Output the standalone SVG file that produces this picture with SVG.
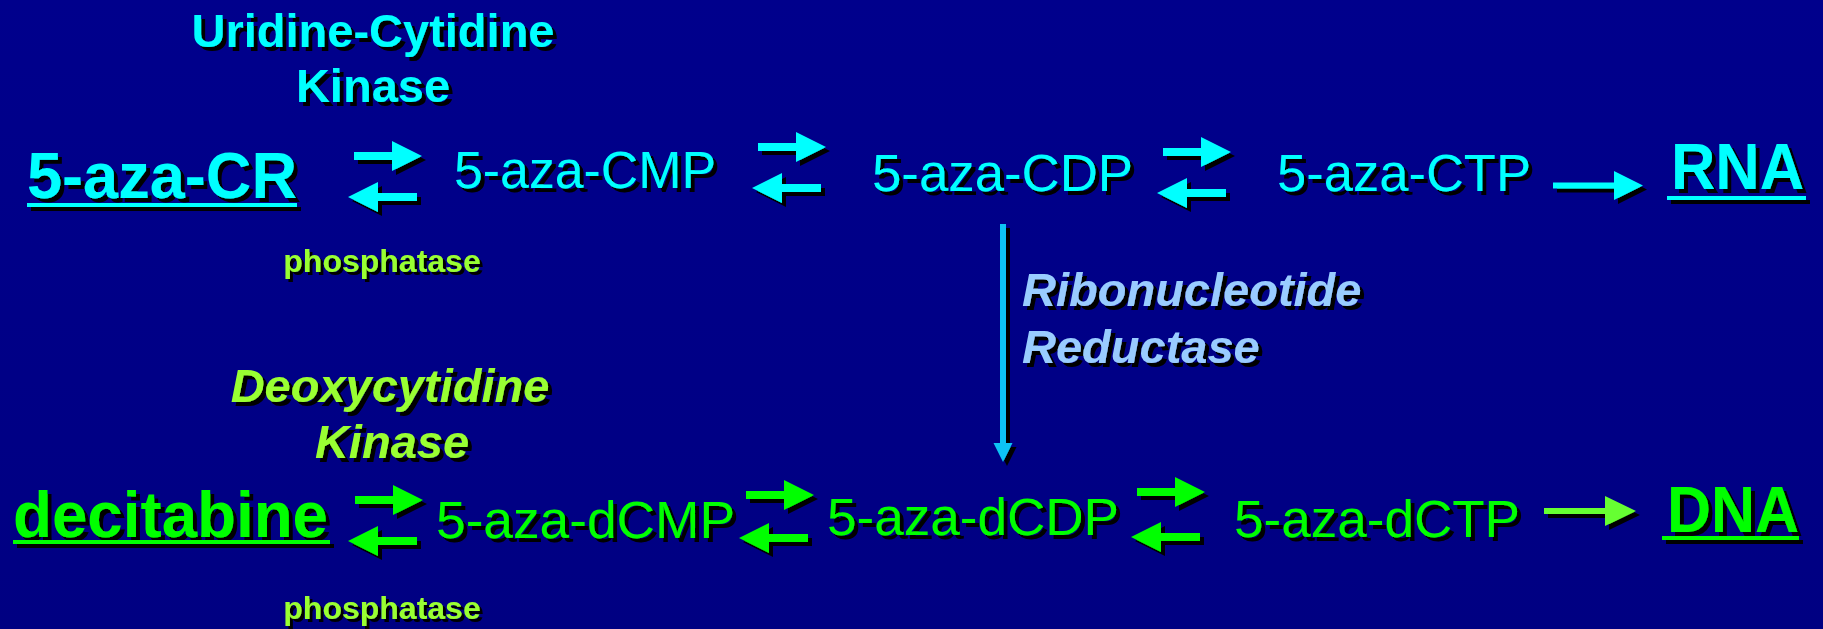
<svg xmlns="http://www.w3.org/2000/svg" xmlns:xlink="http://www.w3.org/1999/xlink" width="1823" height="629" viewBox="0 0 1823 629">
  <defs>
    <linearGradient id="bg" x1="0" y1="0" x2="0" y2="1">
      <stop offset="0" stop-color="#00008c"/>
      <stop offset="1" stop-color="#000082"/>
    </linearGradient>
    <!-- hard black drop shadow used on every label and arrow -->
    <filter id="sh" x="-10%" y="-10%" width="130%" height="140%">
      <feDropShadow dx="4" dy="4" stdDeviation="0" flood-color="#000" flood-opacity="1"/>
    </filter>
    <filter id="shs" x="-10%" y="-10%" width="130%" height="140%">
      <feDropShadow dx="3" dy="3" stdDeviation="0" flood-color="#000" flood-opacity="1"/>
    </filter>
    <!-- block arrows: tail at x=0 (forward) / tip at x=0 (reverse), centred on y=0 -->
    <path id="fwd" d="M0,-4 H38 V-15 L68,0 L38,15 V4 H0 Z"/>
    <path id="rev" d="M0,0 L30,-15 V-4 H69 V4 H30 V15 Z"/>
  </defs>
  <style>
    text { font-family: "Liberation Sans", Arial, sans-serif; }
    .big { font-weight: bold; font-size: 64px; }
    .enz { font-weight: bold; font-size: 47px; }
    .ital { font-style: italic; }
    .mid { font-size: 51px; }
    .pho { font-weight: bold; font-size: 32px; fill: #99ff33; }
    .cy { fill: #00ffff; }
    .gr { fill: #00ff00; }
    .lg { fill: #99ff33; }
    .lb { fill: #99ccff; }
    .ul-cy { fill: #00ffff; }
    .ul-gr { fill: #00ff00; }
  </style>

  <rect width="1823" height="629" fill="url(#bg)"/>

  <!-- ribo pathway -->
  <g id="enzyme-uck" filter="url(#sh)">
    <text class="enz cy" x="373" y="47" text-anchor="middle">Uridine-Cytidine</text>
    <text class="enz cy" x="373" y="102" text-anchor="middle">Kinase</text>
  </g>
  <g id="aza-cr" filter="url(#sh)">
    <text class="big cy" x="27" y="198" textLength="270" lengthAdjust="spacingAndGlyphs">5-aza-CR</text>
    <rect class="ul-cy" x="27" y="203" width="270" height="4"/>
  </g>
  <g id="aza-cmp" filter="url(#sh)">
    <text class="mid cy" x="454" y="188" textLength="262" lengthAdjust="spacingAndGlyphs">5-aza-CMP</text>
  </g>
  <g id="aza-cdp" filter="url(#sh)">
    <text class="mid cy" x="872" y="191" textLength="261" lengthAdjust="spacingAndGlyphs">5-aza-CDP</text>
  </g>
  <g id="aza-ctp" filter="url(#sh)">
    <text class="mid cy" x="1277" y="191" textLength="254" lengthAdjust="spacingAndGlyphs">5-aza-CTP</text>
  </g>
  <g id="rna" filter="url(#sh)">
    <text class="big cy" x="1671" y="189" textLength="133" lengthAdjust="spacingAndGlyphs">RNA</text>
    <rect class="ul-cy" x="1667" y="196" width="139" height="4"/>
  </g>
  <g id="phosphatase-1" filter="url(#shs)">
    <text class="pho" x="382" y="272" text-anchor="middle">phosphatase</text>
  </g>

  <!-- reductase label -->
  <g id="enzyme-rnr" filter="url(#sh)">
    <text class="enz ital lb" x="1022" y="306">Ribonucleotide</text>
    <text class="enz ital lb" x="1022" y="363">Reductase</text>
  </g>

  <!-- deoxy pathway -->
  <g id="enzyme-dck" filter="url(#sh)">
    <text class="enz ital lg" x="390" y="402" text-anchor="middle">Deoxycytidine</text>
    <text class="enz ital lg" x="392" y="458" text-anchor="middle">Kinase</text>
  </g>
  <g id="decitabine" filter="url(#sh)">
    <text class="big gr" x="13" y="537" textLength="315" lengthAdjust="spacingAndGlyphs">decitabine</text>
    <rect class="ul-gr" x="13" y="540" width="317" height="4"/>
  </g>
  <g id="aza-dcmp" filter="url(#sh)">
    <text class="mid gr" x="436" y="538" textLength="299" lengthAdjust="spacingAndGlyphs">5-aza-dCMP</text>
  </g>
  <g id="aza-dcdp" filter="url(#sh)">
    <text class="mid gr" x="827" y="535" textLength="292" lengthAdjust="spacingAndGlyphs">5-aza-dCDP</text>
  </g>
  <g id="aza-dctp" filter="url(#sh)">
    <text class="mid gr" x="1234" y="537" textLength="286" lengthAdjust="spacingAndGlyphs">5-aza-dCTP</text>
  </g>
  <g id="dna" filter="url(#sh)">
    <text class="big gr" x="1667" y="532" textLength="132" lengthAdjust="spacingAndGlyphs">DNA</text>
    <rect class="ul-gr" x="1662" y="536" width="137" height="4"/>
  </g>
  <g id="phosphatase-2" filter="url(#shs)">
    <text class="pho" x="382" y="619" text-anchor="middle">phosphatase</text>
  </g>

  <!-- connectors -->
  <g id="connectors" filter="url(#sh)">
    <g fill="#00ffff">
      <use href="#fwd" x="354" y="156"/>
      <use href="#rev" x="348" y="197"/>
      <use href="#fwd" x="758" y="147"/>
      <use href="#rev" x="752" y="188"/>
      <use href="#fwd" x="1163" y="152"/>
      <use href="#rev" x="1157" y="193"/>
      <path d="M1553,182.5 H1614 V171 L1643,185.5 L1614,200 V188.5 H1553 Z"/>
    </g>
    <g fill="#00ff00">
      <use href="#fwd" x="355" y="500"/>
      <use href="#rev" x="348" y="541"/>
      <use href="#fwd" x="746" y="495"/>
      <use href="#rev" x="739" y="538"/>
      <use href="#fwd" x="1137" y="492"/>
      <use href="#rev" x="1131" y="537"/>
    </g>
    <path fill="#66ff33" d="M1544,508 H1605 V496 L1636,511 L1605,526 V514 H1544 Z"/>
    <!-- ribonucleotide reductase step: CDP down to dCDP -->
    <path fill="#10c4f4" d="M1000,224 H1006 V443 H1012.5 L1003,462 L993.5,443 H1000 Z"/>
  </g>
</svg>
